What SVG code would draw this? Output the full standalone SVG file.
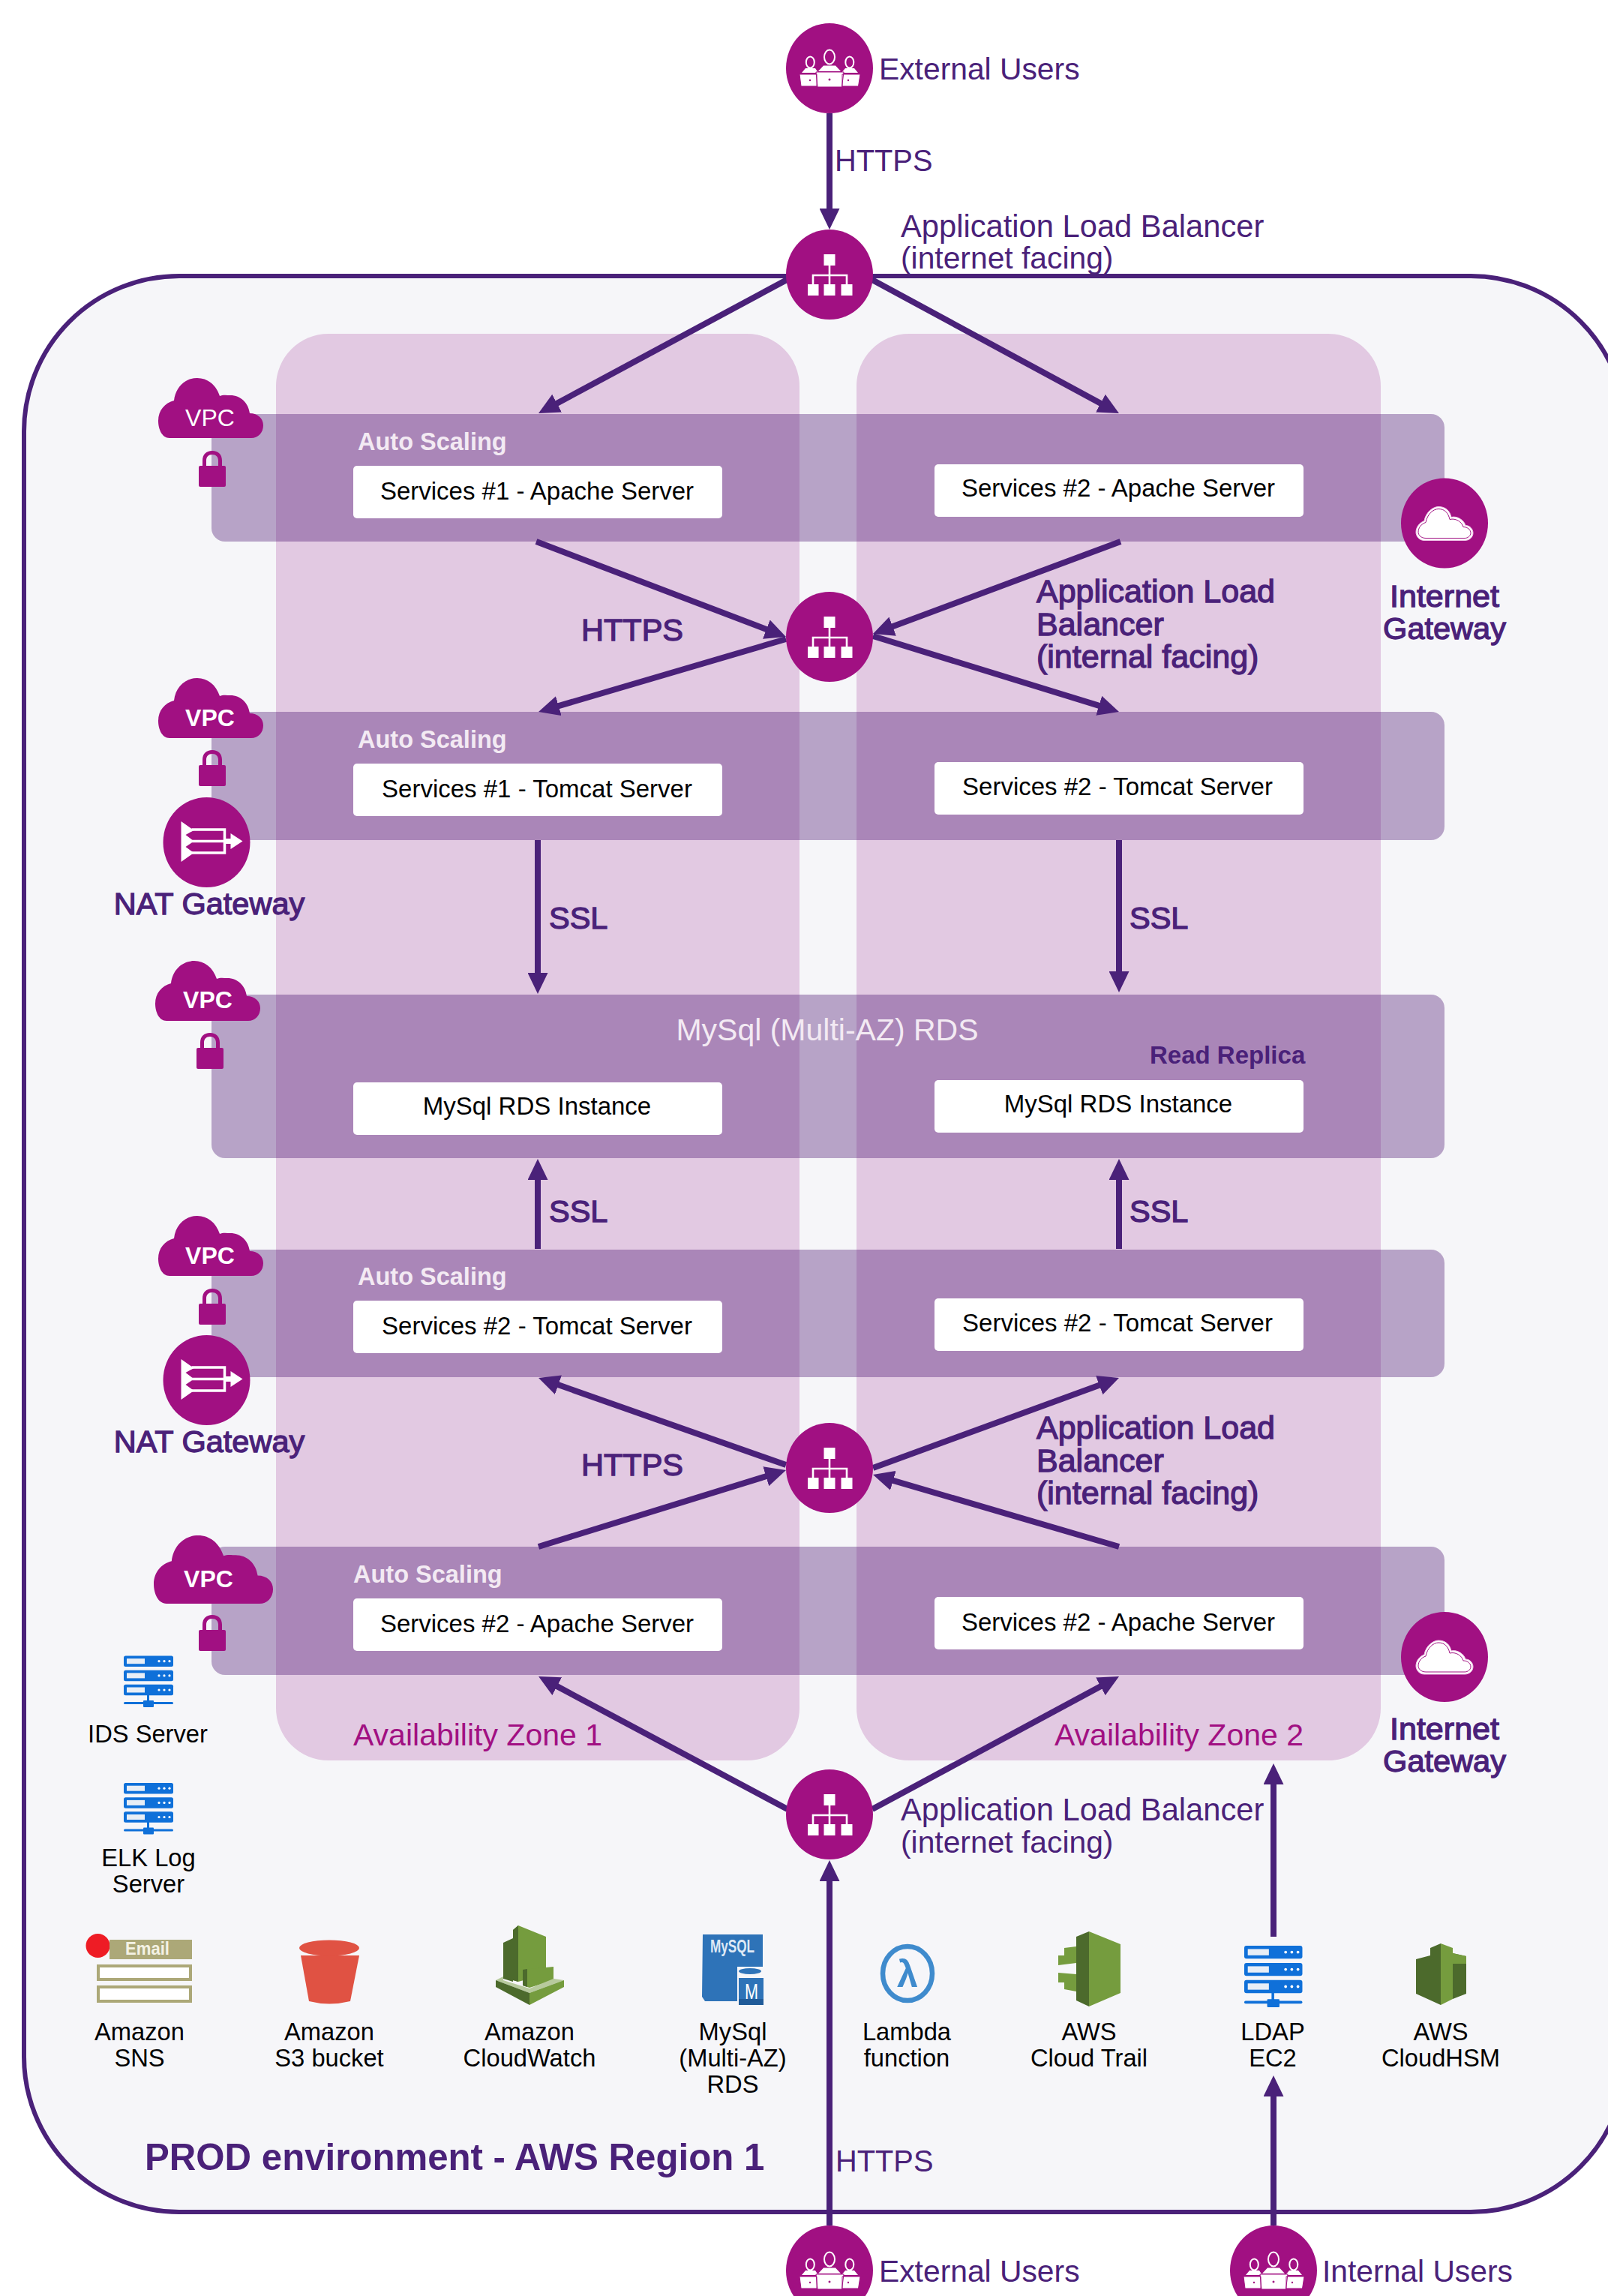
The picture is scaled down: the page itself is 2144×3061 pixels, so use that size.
<svg xmlns="http://www.w3.org/2000/svg" xmlns:xlink="http://www.w3.org/1999/xlink" width="2144" height="3061" viewBox="0 0 2144 3061">
<style>
text{font-family:"Liberation Sans",Arial,sans-serif}
.p{fill:#4a2179}
.r40{font-size:40.800px;fill:#4a2179}
.r42{font-size:41.700px;fill:#4a2179}
.r41{font-size:40.800px;fill:#4a2179}
.h{font-size:39.800px;fill:#4a2179}
.m{font-size:41.500px;fill:#4a2179;stroke:#4a2179;stroke-width:1.300px}
.al{font-size:43px;fill:#4a2179;stroke:#4a2179;stroke-width:1.300px}
.c{text-anchor:middle}
.box{fill:#fff}
.boxt{font-size:33px;fill:#000;text-anchor:middle}
.as{font-size:32.500px;font-weight:700;fill:#f3eaf3}
.band{fill:#47106f;fill-opacity:.36}
.az{fill:#e2c9e2}
.azt{font-size:41px;fill:#a11082}
.mg{fill:#a11082}
.lbl{font-size:32.700px;fill:#000;text-anchor:middle}
.vpc{font-size:32px;fill:#fff;text-anchor:middle}
.conn line{stroke:#4a2179;stroke-width:8;marker-end:url(#ah)}
</style>
<defs>
<marker id="ah" markerUnits="userSpaceOnUse" markerWidth="28" markerHeight="27" refX="8" refY="13.5" orient="auto"><path d="M0 0L28 13.5L0 27z" fill="#4a2179"/></marker>
<path id="cloud" d="M15 80C5 80 0 68 0 57C0 43 9 33 21 30C23 12 36 0 52 0C66 0 77 9 82 24C86 22 92 23 96 23C110 23 120 33 122 47C133 47 140 54 140 63C140 73 133 80 124 80Z" fill="#a11082"/>
<g id="lock" fill="#a11082"><rect x="0" y="20" width="36" height="28" rx="2"/><path d="M5 21V13C5 5 10 0 18 0C26 0 31 5 31 13V21H26V13C26 8 23 5 18 5C13 5 10 8 10 13V21Z"/></g>
<ellipse id="disc" cx="0" cy="0" rx="58" ry="60" fill="#a11082"/>
<g id="alb"><use xlink:href="#disc"/><g fill="#fff"><rect x="-7.500" y="-27" width="15" height="15"/><rect x="-29" y="13" width="14.500" height="15"/><rect x="-7.500" y="13" width="15" height="15"/><rect x="15.500" y="13" width="15" height="15"/></g><path d="M0 -12V13M-22 13V1H23V13" fill="none" stroke="#fff" stroke-width="2.600"/></g>
<g id="users"><use xlink:href="#disc"/>
<g fill="#fff"><path d="M-37 6L-32 0H-19L-15 6ZM16 6L21 0H33L38 6ZM-15 4L-8 -3.500H8L15 4Z"/>
<path d="M-40 8H-17V24H-38ZM17 8H41L38.500 24H17ZM-18 5H19L16.500 25H-16Z" stroke="#a11082" stroke-width="1"/></g>
<g fill="#a11082" stroke="#fff" stroke-width="2"><ellipse cx="-25.700" cy="-8" rx="5.500" ry="7.500"/><ellipse cx="26.800" cy="-8" rx="5.500" ry="7.500"/><ellipse cx="0" cy="-15" rx="7" ry="9.500"/></g>
<g fill="#a11082"><circle cx="0" cy="15" r="1.500"/><circle cx="-26" cy="16" r="1.200"/><circle cx="25" cy="16" r="1.200"/></g></g>
<g id="nat"><use xlink:href="#disc"/><g fill="#fff"><path d="M-34 -28L-17 -16L-28 -10L-17 -1.500L-28 6L-17 14L-34 26Z"/><path d="M32 -12L48 -1.500L32 9V2H25V-5H32Z"/></g><path d="M-20 -17H24V14H-20M-20 -1.500H25" fill="none" stroke="#fff" stroke-width="3.500"/></g>
<g id="igw"><use xlink:href="#disc"/><path d="M-27 23C-34 23 -38 17 -38 12C-38 5 -33 -1 -27 -3C-25 -15 -15 -22 -8 -22C1 -22 7 -17 9 -8C17 -10 26 -4 28 3C34 3 38 8 38 13C38 19 33 23 27 23Z" fill="#fff" stroke="#f0c8e8" stroke-width="1"/><path d="M-25 20C-31 20 -35 16 -35 12C-35 6 -31 1 -25 -1C-23 -12 -15 -19 -8 -19C0 -19 5 -14 7 -5C15 -7 23 -2 25 5C31 5 35 9 35 13C35 17 31 20 27 20Z" fill="none" stroke="#a11082" stroke-width="1"/></g>
<g id="srv"><g fill="#0f70d9"><rect x="0" y="0" width="66" height="14.500" rx="2.500"/><rect x="0" y="19.200" width="66" height="14.500" rx="2.500"/><rect x="0" y="38.300" width="66" height="14.500" rx="2.500"/><rect x="31" y="52" width="3" height="10"/><rect x="0" y="61.500" width="66" height="3" rx="1.500"/><rect x="26" y="59.500" width="14" height="9" rx="1"/></g><g fill="#e8eef6"><rect x="4" y="3.700" width="24" height="7"/><rect x="4" y="22.900" width="24" height="7"/><rect x="4" y="42" width="24" height="7"/></g><g fill="#fff"><circle cx="47" cy="7.200" r="1.600"/><circle cx="54" cy="7.200" r="1.600"/><circle cx="61" cy="7.200" r="1.600"/><circle cx="47" cy="26.400" r="1.600"/><circle cx="54" cy="26.400" r="1.600"/><circle cx="61" cy="26.400" r="1.600"/><circle cx="47" cy="45.500" r="1.600"/><circle cx="54" cy="45.500" r="1.600"/><circle cx="61" cy="45.500" r="1.600"/></g></g>
</defs>

<g id="region"><rect x="32" y="368" width="2136" height="2581" rx="207" ry="207" fill="#f6f6f9" stroke="#4a2179" stroke-width="6"/>
<text x="193" y="2893" font-size="49.200" font-weight="700" class="p">PROD environment - AWS Region 1</text></g>

<g id="zone-1"><rect class="az" x="368" y="445" width="698" height="1902" rx="70"/><text class="azt" x="471" y="2327">Availability Zone 1</text></g>
<g id="zone-2"><rect class="az" x="1142" y="445" width="699" height="1902" rx="70"/><text class="azt" x="1406" y="2327">Availability Zone 2</text></g>

<g id="band-apache-top"><rect class="band" x="282" y="552" width="1644" height="170" rx="18"/></g>
<g id="band-tomcat-top"><rect class="band" x="282" y="949" width="1644" height="171" rx="18"/></g>
<g id="band-rds"><rect class="band" x="282" y="1326" width="1644" height="218" rx="18"/></g>
<g id="band-tomcat-bottom"><rect class="band" x="282" y="1666" width="1644" height="170" rx="18"/></g>
<g id="band-apache-bottom"><rect class="band" x="282" y="2062" width="1644" height="171" rx="18"/></g>

<g id="connectors" class="conn">
<line x1="1106" y1="151" x2="1106" y2="286"/>
<line x1="1051" y1="372" x2="735.600" y2="541.500"/>
<line x1="1161" y1="372" x2="1474.400" y2="541.500"/>
<line x1="715" y1="722" x2="1029.300" y2="841.900"/>
<line x1="1494" y1="722" x2="1182.700" y2="838"/>
<line x1="1048" y1="852" x2="737.200" y2="943.400"/>
<line x1="1164" y1="848" x2="1472.900" y2="943.100"/>
<line x1="717" y1="1120" x2="717" y2="1305"/>
<line x1="1492" y1="1120" x2="1492" y2="1303"/>
<line x1="717" y1="1665" x2="717" y2="1565"/>
<line x1="1492" y1="1665" x2="1492" y2="1565"/>
<line x1="1048" y1="1953" x2="736.900" y2="1843.600"/>
<line x1="1164" y1="1957" x2="1473.200" y2="1843.900"/>
<line x1="718" y1="2062" x2="1028.900" y2="1965.900"/>
<line x1="1492" y1="2062" x2="1183.200" y2="1971.600"/>
<line x1="1050" y1="2412" x2="735.700" y2="2244.400"/>
<line x1="1163" y1="2412" x2="1474.400" y2="2244.500"/>
<line x1="1106" y1="2967" x2="1106" y2="2500"/>
<line x1="1698" y1="2582" x2="1698" y2="2371"/>
<line x1="1698" y1="2967" x2="1698" y2="2787"/>
</g>

<g id="vpc-1"><use xlink:href="#cloud" x="211" y="504"/><text class="vpc" x="280" y="568">VPC</text><use xlink:href="#lock" x="265" y="601"/></g>
<g id="vpc-2"><use xlink:href="#cloud" x="211" y="904"/><text class="vpc" x="280" y="968" font-weight="700">VPC</text><use xlink:href="#lock" x="265" y="1000"/></g>
<g id="vpc-3"><use xlink:href="#cloud" x="207" y="1281"/><text class="vpc" x="277" y="1344" font-weight="700">VPC</text><use xlink:href="#lock" x="262" y="1377"/></g>
<g id="vpc-4"><use xlink:href="#cloud" x="211" y="1621"/><text class="vpc" x="280" y="1685" font-weight="700">VPC</text><use xlink:href="#lock" x="265" y="1718"/></g>
<g id="vpc-5"><use xlink:href="#cloud" transform="translate(205 2047) scale(1.136 1.138)"/><text class="vpc" x="278" y="2116" font-weight="700">VPC</text><use xlink:href="#lock" x="265" y="2153"/></g>

<g id="svc1-apache"><text class="as" x="477" y="600">Auto Scaling</text><rect class="box" x="471" y="621" width="492" height="70" rx="5"/><text class="boxt" x="716" y="666">Services #1 - Apache Server</text></g>
<g id="svc2-apache"><rect class="box" x="1246" y="619" width="492" height="70" rx="5"/><text class="boxt" x="1491" y="662">Services #2 - Apache Server</text></g>
<g id="svc1-tomcat"><text class="as" x="477" y="997">Auto Scaling</text><rect class="box" x="471" y="1018" width="492" height="70" rx="5"/><text class="boxt" x="716" y="1063">Services #1 - Tomcat Server</text></g>
<g id="svc2-tomcat"><rect class="box" x="1246" y="1016" width="492" height="70" rx="5"/><text class="boxt" x="1490" y="1060">Services #2 - Tomcat Server</text></g>
<g id="rds-title"><text x="1103" y="1387" font-size="41" fill="#f3eaf3" text-anchor="middle">MySql (Multi-AZ) RDS</text><text x="1533" y="1418" font-size="33" font-weight="700" class="p">Read Replica</text></g>
<g id="rds-1"><rect class="box" x="471" y="1443" width="492" height="70" rx="5"/><text class="boxt" x="716" y="1486">MySql RDS Instance</text></g>
<g id="rds-2"><rect class="box" x="1246" y="1440" width="492" height="70" rx="5"/><text class="boxt" x="1491" y="1483">MySql RDS Instance</text></g>
<g id="svc1-tomcat-b"><text class="as" x="477" y="1713">Auto Scaling</text><rect class="box" x="471" y="1734" width="492" height="70" rx="5"/><text class="boxt" x="716" y="1779">Services #2 - Tomcat Server</text></g>
<g id="svc2-tomcat-b"><rect class="box" x="1246" y="1731" width="492" height="70" rx="5"/><text class="boxt" x="1490" y="1775">Services #2 - Tomcat Server</text></g>
<g id="svc1-apache-b"><text class="as" x="471" y="2110">Auto Scaling</text><rect class="box" x="471" y="2131" width="492" height="70" rx="5"/><text class="boxt" x="716" y="2176">Services #2 - Apache Server</text></g>
<g id="svc2-apache-b"><rect class="box" x="1246" y="2129" width="492" height="70" rx="5"/><text class="boxt" x="1491" y="2174">Services #2 - Apache Server</text></g>

<g id="external-users-top"><use xlink:href="#users" x="1106" y="91"/><text class="r40" x="1172" y="106">External Users</text></g>
<g id="alb-top"><use xlink:href="#alb" x="1106" y="366"/><text class="r42" x="1201" y="316">Application Load Balancer</text><text class="r41" x="1201" y="358">(internet facing)</text></g>
<g id="alb-mid-top"><use xlink:href="#alb" x="1106" y="849"/><text class="al" x="1382" y="803">Application Load</text><text class="al" x="1382" y="847">Balancer</text><text class="al" x="1382" y="890" font-size="42.500">(internal facing)</text></g>
<g id="alb-mid-bottom"><use xlink:href="#alb" x="1106" y="1957"/><text class="al" x="1382" y="1918">Application Load</text><text class="al" x="1382" y="1962">Balancer</text><text class="al" x="1382" y="2005" font-size="42.500">(internal facing)</text></g>
<g id="alb-bottom"><use xlink:href="#alb" x="1106" y="2419"/><text class="r42" x="1201" y="2427">Application Load Balancer</text><text class="r41" x="1201" y="2470">(internet facing)</text></g>
<g id="external-users-bottom"><use xlink:href="#users" x="1106" y="3027"/><text class="r40" x="1172" y="3042">External Users</text></g>
<g id="internal-users"><use xlink:href="#users" x="1698" y="3027"/><text class="r40" x="1763" y="3042">Internal Users</text></g>
<g id="nat-1"><use xlink:href="#nat" x="275.500" y="1123"/><text class="m c" x="279" y="1219">NAT Gateway</text></g>
<g id="nat-2"><use xlink:href="#nat" x="275.500" y="1840"/><text class="m c" x="279" y="1936">NAT Gateway</text></g>
<g id="igw-1"><use xlink:href="#igw" x="1926" y="697.500"/><text class="m c" x="1926" y="809" textLength="146" lengthAdjust="spacingAndGlyphs">Internet</text><text class="m c" x="1926" y="852">Gateway</text></g>
<g id="igw-2"><use xlink:href="#igw" x="1926" y="2209"/><text class="m c" x="1926" y="2319" textLength="146" lengthAdjust="spacingAndGlyphs">Internet</text><text class="m c" x="1926" y="2362">Gateway</text></g>

<g id="connector-labels">
<text class="h" x="1113" y="228">HTTPS</text>
<text class="m" x="775" y="854" font-size="40.500">HTTPS</text>
<text class="m" x="732" y="1238">SSL</text>
<text class="m" x="1506" y="1238">SSL</text>
<text class="m" x="732" y="1629">SSL</text>
<text class="m" x="1506" y="1629">SSL</text>
<text class="m" x="775" y="1967" font-size="40.500">HTTPS</text>
<text class="h" x="1114" y="2895">HTTPS</text>
</g>

<g id="ids-server"><use xlink:href="#srv" x="165" y="2207.500"/><text class="lbl" x="197" y="2323" font-size="32">IDS Server</text></g>
<g id="elk-server"><use xlink:href="#srv" x="165" y="2377"/><text class="lbl" x="198" y="2488">ELK Log</text><text class="lbl" x="198" y="2523">Server</text></g>

<g id="sns"><circle cx="130.500" cy="2594" r="16" fill="#ee1c25"/><rect x="146" y="2586" width="110" height="26" fill="#aca878"/><text x="167" y="2606" font-size="23" font-weight="700" fill="#f4f2e4" textLength="59" lengthAdjust="spacingAndGlyphs">Email</text><rect x="131" y="2621" width="123" height="18" fill="#fff" stroke="#aca878" stroke-width="4"/><rect x="131" y="2649" width="123" height="19" fill="#fff" stroke="#aca878" stroke-width="4"/><text class="lbl" x="186" y="2720">Amazon</text><text class="lbl" x="186" y="2755">SNS</text></g>
<g id="s3"><path d="M401 2607L479 2607L467 2668Q439 2675 412 2668Z" fill="#e05243"/><ellipse cx="439" cy="2597" rx="40" ry="10.500" fill="#e05243"/><text class="lbl" x="439" y="2720">Amazon</text><text class="lbl" x="439" y="2755">S3 bucket</text></g>
<g id="cloudwatch"><path d="M671 2590L684 2584V2642L671 2638Z" fill="#4c6a2c"/><path d="M684 2573L691 2567L728 2582V2632L691 2642L684 2640Z" fill="#759c3e"/><path d="M684 2573L691 2567V2642L684 2640Z" fill="#4c6a2c"/><path d="M697 2626L738 2622V2640L706 2650L697 2647Z" fill="#759c3e"/><path d="M697 2626L703 2625V2649L697 2647Z" fill="#4c6a2c"/><path d="M661 2640L671 2635V2640L706 2651L738 2638L752 2640L706 2657Z" fill="#b7ca9d"/><path d="M661 2640L706 2657V2673L661 2649Z" fill="#4c6a2c"/><path d="M752 2640L706 2657V2673L752 2649Z" fill="#759c3e"/><text class="lbl" x="706" y="2720">Amazon</text><text class="lbl" x="706" y="2755">CloudWatch</text></g>
<g id="mysql"><path d="M937 2579H1017V2622H983V2668H940L936 2662Z" fill="#2e73b8"/><rect x="983" y="2625" width="35" height="48" fill="#f6f6f9"/><ellipse cx="1000" cy="2628" rx="15" ry="4" fill="#2e73b8"/><rect x="985" y="2637" width="33" height="28" fill="#2e73b8"/><rect x="985" y="2665" width="33" height="8" fill="#205b99"/><text x="947" y="2603" font-size="24" font-weight="700" fill="#dfe9f5" textLength="59" lengthAdjust="spacingAndGlyphs">MySQL</text><text x="993" y="2665" font-size="30" fill="#fff" textLength="18" lengthAdjust="spacingAndGlyphs">M</text><text class="lbl" x="977" y="2720">MySql</text><text class="lbl" x="977" y="2755">(Multi-AZ)</text><text class="lbl" x="977" y="2790">RDS</text></g>
<g id="lambda"><ellipse cx="1210" cy="2631" rx="33" ry="36" fill="none" stroke="#3f8bcd" stroke-width="6.500"/><text x="1210" y="2649" font-size="50" font-weight="700" fill="#3f8bcd" text-anchor="middle">λ</text><text class="lbl" x="1209" y="2720">Lambda</text><text class="lbl" x="1209" y="2755">function</text></g>
<g id="cloudtrail"><path d="M1452 2575L1494 2592V2657L1452 2675Z" fill="#759c3e"/><path d="M1452 2575L1435 2582V2667L1452 2675Z" fill="#4c6a2c"/><path d="M1411 2607H1419V2597L1435 2595V2617L1411 2620Z" fill="#759c3e"/><path d="M1411 2630L1435 2632V2655L1419 2652V2643H1411Z" fill="#759c3e"/><text class="lbl" x="1452" y="2720">AWS</text><text class="lbl" x="1452" y="2755">Cloud Trail</text></g>
<g id="ldap"><use xlink:href="#srv" transform="translate(1659 2594) scale(1.174 1.197)"/><text class="lbl" x="1697" y="2720">LDAP</text><text class="lbl" x="1697" y="2755">EC2</text></g>
<g id="cloudhsm"><path d="M1921 2591L1907 2597V2607L1888 2612V2658L1921 2673Z" fill="#4c6a2c"/><path d="M1921 2591L1937 2597V2665L1921 2673Z" fill="#759c3e"/><path d="M1937 2604L1955 2608V2658L1937 2665Z" fill="#4c6a2c"/><path d="M1937 2604L1955 2608V2618L1937 2618Z" fill="#759c3e"/><text class="lbl" x="1921" y="2720">AWS</text><text class="lbl" x="1921" y="2755">CloudHSM</text></g>
</svg>
